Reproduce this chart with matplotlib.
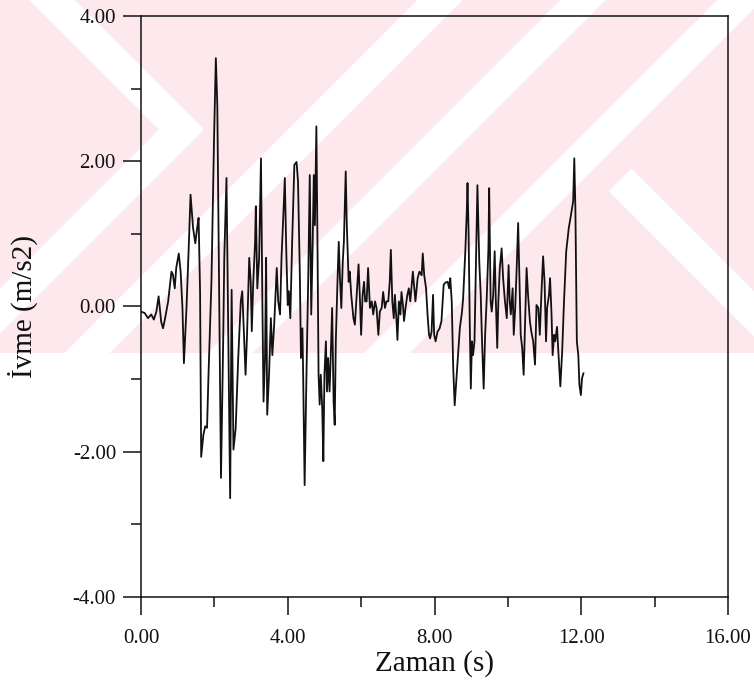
import matplotlib
matplotlib.use("Agg")
import matplotlib.pyplot as plt
from matplotlib.patches import Polygon, Rectangle
from matplotlib.ticker import FixedLocator, FormatStrFormatter

# Acceleration record: time (s) and acceleration (m/s2)
t = [
    0.00, 0.10, 0.19, 0.28, 0.35, 0.42, 0.48, 0.55, 0.60, 0.65, 0.74, 0.83,
    0.87, 0.92, 0.96, 1.03, 1.08, 1.13, 1.17, 1.24, 1.30, 1.35, 1.42, 1.48,
    1.53, 1.57, 1.61, 1.64, 1.70, 1.75, 1.80, 1.84, 1.92, 1.99, 2.04, 2.08,
    2.18, 2.24, 2.27, 2.33, 2.43, 2.47, 2.52, 2.58, 2.65, 2.72, 2.76, 2.82,
    2.85, 2.89, 2.92, 2.95, 2.99, 3.02, 3.06, 3.11, 3.13, 3.17, 3.22, 3.27,
    3.31, 3.34, 3.38, 3.41, 3.44, 3.49, 3.54, 3.58, 3.63, 3.70, 3.74, 3.79,
    3.83, 3.88, 3.92, 3.96, 4.00, 4.03, 4.07, 4.12, 4.18, 4.24, 4.28, 4.33,
    4.36, 4.40, 4.42, 4.46, 4.51, 4.56, 4.60, 4.64, 4.68, 4.71, 4.74, 4.78,
    4.81, 4.84, 4.87, 4.90, 4.94, 4.97, 5.00, 5.04, 5.07, 5.10, 5.14, 5.17,
    5.21, 5.25, 5.28, 5.31, 5.35, 5.39, 5.42, 5.46, 5.50, 5.53, 5.58, 5.61,
    5.66, 5.69, 5.73, 5.79, 5.83, 5.88, 5.93, 5.97, 6.00, 6.04, 6.08, 6.11,
    6.15, 6.19, 6.24, 6.29, 6.33, 6.38, 6.42, 6.47, 6.51, 6.56, 6.60, 6.65,
    6.69, 6.74, 6.78, 6.81, 6.85, 6.89, 6.92, 6.96, 6.99, 7.03, 7.07, 7.10,
    7.14, 7.17, 7.21, 7.26, 7.30, 7.34, 7.38, 7.41, 7.45, 7.48, 7.54, 7.59,
    7.65, 7.68, 7.72, 7.77, 7.81, 7.85, 7.88, 7.92, 7.96, 7.99, 8.03, 8.08,
    8.14, 8.19, 8.25, 8.30, 8.36, 8.40, 8.43, 8.47, 8.51, 8.55, 8.58, 8.64,
    8.69, 8.75, 8.78, 8.84, 8.88, 8.90, 8.93, 8.96, 8.99, 9.02, 9.05, 9.09,
    9.12, 9.17, 9.22, 9.26, 9.29, 9.34, 9.38, 9.42, 9.47, 9.49, 9.53, 9.56,
    9.60, 9.64, 9.67, 9.71, 9.74, 9.78, 9.83, 9.87, 9.92, 9.97, 10.02, 10.05,
    10.08, 10.13, 10.16, 10.20, 10.24, 10.28, 10.32, 10.35, 10.39, 10.43, 10.46, 10.51,
    10.55, 10.60, 10.64, 10.69, 10.74, 10.78, 10.83, 10.87, 10.92, 10.96, 11.00, 11.04,
    11.07, 11.12, 11.15, 11.19, 11.22, 11.26, 11.29, 11.34, 11.37, 11.43, 11.48, 11.53,
    11.59, 11.66, 11.72, 11.78, 11.81, 11.84, 11.88, 11.92, 11.95, 11.99, 12.02, 12.06,
]
acc = [
    -0.07, -0.09, -0.16, -0.11, -0.18, -0.07, 0.14, -0.21, -0.30, -0.18, 0.07, 0.48,
    0.44, 0.25, 0.53, 0.73, 0.48, -0.02, -0.78, -0.02, 0.80, 1.54, 1.08, 0.87,
    1.08, 1.22, 0.21, -2.07, -1.77, -1.65, -1.67, -0.94, 0.34, 2.29, 3.42, 2.77,
    -2.36, -0.48, 0.67, 1.77, -2.64, 0.23, -1.97, -1.68, -0.71, 0.07, 0.21, -0.57,
    -0.94, -0.39, 0.16, 0.67, 0.34, -0.34, 0.34, 0.89, 1.38, 0.25, 0.67, 2.04,
    -0.02, -1.31, -0.71, 0.67, -1.49, -0.94, -0.16, -0.67, -0.25, 0.53, 0.07, -0.11,
    0.67, 1.26, 1.77, 0.76, 0.02, 0.21, -0.16, 0.89, 1.95, 1.99, 1.72, 0.43,
    -0.71, -0.30, -0.94, -2.46, -0.94, 0.43, 1.81, -0.11, 0.89, 1.81, 1.12, 2.48,
    0.89, -0.94, -1.35, -0.94, -1.40, -2.13, -0.94, -0.48, -1.17, -0.71, -1.17, -0.71,
    -0.02, -1.31, -1.63, -0.48, 0.25, 0.89, 0.43, -0.02, 0.62, 0.89, 1.86, 1.12,
    0.34, 0.48, 0.16, -0.16, -0.25, 0.16, 0.58, 0.07, -0.39, 0.16, 0.34, 0.07,
    0.07, 0.53, -0.02, 0.07, -0.11, 0.07, -0.02, -0.39, -0.07, -0.02, 0.20, -0.02,
    0.07, 0.07, 0.34, 0.78, 0.07, -0.16, 0.16, -0.16, -0.46, 0.07, -0.11, 0.20,
    0.02, -0.20, -0.02, 0.16, 0.25, 0.07, 0.30, 0.48, 0.25, 0.07, 0.39, 0.48,
    0.43, 0.73, 0.43, 0.25, -0.11, -0.39, -0.44, -0.35, 0.16, -0.39, -0.48, -0.35,
    -0.30, -0.20, 0.30, 0.33, 0.34, 0.25, 0.39, 0.07, -0.85, -1.36, -1.13, -0.67,
    -0.30, -0.07, 0.11, 0.76, 1.31, 1.70, 0.99, -0.20, -1.13, -0.48, -0.67, -0.48,
    0.30, 1.67, 0.62, 0.16, -0.39, -1.13, -0.39, 0.07, 0.80, 1.63, 0.07, -0.07,
    0.16, 0.76, 0.11, -0.57, 0.07, 0.53, 0.80, 0.39, 0.07, -0.16, 0.57, 0.07,
    -0.11, 0.25, -0.39, -0.02, 0.53, 1.15, 0.30, -0.39, -0.57, -0.94, -0.39, 0.53,
    0.16, -0.20, -0.35, -0.48, -0.80, 0.02, -0.02, -0.39, 0.25, 0.69, 0.34, -0.48,
    -0.02, 0.16, 0.39, -0.11, -0.67, -0.39, -0.48, -0.28, -0.57, -1.10, -0.62, 0.07,
    0.76, 1.08, 1.26, 1.45, 2.04, 1.35, -0.48, -0.67, -1.08, -1.22, -0.99, -0.92,
]

x_major = [0, 4, 8, 12, 16]
x_minor = [2, 6, 10, 14]
y_major = [-4, -2, 0, 2, 4]
y_minor = [-3, -1, 1, 3]

_INK = "#111111"
_PINK = "#fde9ed"

plt.rcParams["font.family"] = ["Liberation Serif", "DejaVu Serif"]

W, H = 754, 686
fig = plt.figure(figsize=(W / 100, H / 100), dpi=100)

# page background band with diagonal white stripes (pixel coordinates)
bg = fig.add_axes([0, 0, 1, 1], zorder=0)
bg.set_xlim(0, W)
bg.set_ylim(H, 0)
bg.axis("off")
band = Rectangle((0, 0), W, 353, facecolor=_PINK, edgecolor="none")
bg.add_patch(band)


def stripe(x0, y0, x1, y1, w=32):
    dx, dy = x1 - x0, y1 - y0
    n = (dx * dx + dy * dy) ** 0.5
    ox, oy = -dy / n * w / 2, dx / n * w / 2
    p = Polygon([(x0 + ox, y0 + oy), (x1 + ox, y1 + oy),
                 (x1 - ox, y1 - oy), (x0 - ox, y0 - oy)],
                closed=True, facecolor="white", edgecolor="none")
    bg.add_patch(p)
    p.set_clip_path(band)


# chevron on the left
stripe(22, -30, 192, 140)
stripe(192, 119, -30, 341)
# parallel rising bands
stripe(60, 380, 470, -30)
stripe(200, 383, 613, -30)
stripe(360, 380, 770, -30)
# falling band on the right
stripe(620, 180, 780, 340)

ax = fig.add_axes([141 / W, 1 - 597 / H, 587 / W, 581 / H], zorder=1)
ax.set_facecolor("none")
ax.plot(t, acc, color=_INK, linewidth=1.3)

ax.set_xlim(0, 16)
ax.set_ylim(-4, 4)
ax.xaxis.set_major_locator(FixedLocator(x_major))
ax.xaxis.set_minor_locator(FixedLocator(x_minor))
ax.yaxis.set_major_locator(FixedLocator(y_major))
ax.yaxis.set_minor_locator(FixedLocator(y_minor))
ax.xaxis.set_major_formatter(FormatStrFormatter("%.2f"))
ax.yaxis.set_major_formatter(FormatStrFormatter("%.2f"))

ax.tick_params(which="major", direction="out", length=13, width=1.1,
               colors=_INK, labelsize=15)
ax.tick_params(which="minor", direction="out", length=7, width=1.1, colors=_INK)
ax.tick_params(axis="x", which="major", pad=10)
ax.tick_params(axis="y", which="major", pad=5)
for s in ax.spines.values():
    s.set_linewidth(1.1)
    s.set_color(_INK)

ax.set_xlabel("Zaman (s)", fontsize=21, color=_INK)
ax.set_ylabel("İvme (m/s2)", fontsize=21, color=_INK)
ax.xaxis.set_label_coords(0.5, -0.092)
ax.yaxis.set_label_coords(-0.175, 0.5)

fig.savefig("out.png", dpi=100)
